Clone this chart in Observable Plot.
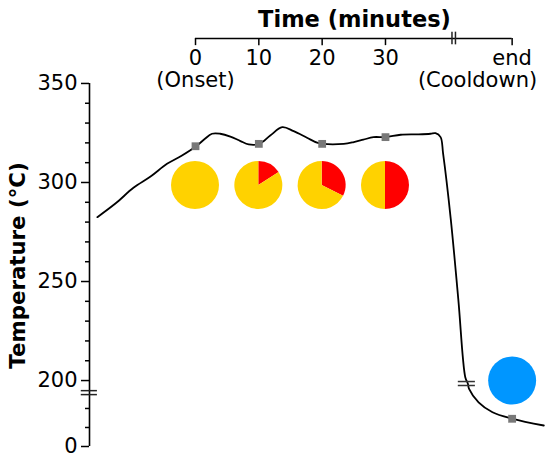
<!DOCTYPE html>
<html><head><meta charset="utf-8">
<script src="https://cdn.jsdelivr.net/npm/d3@7"></script>
<script src="https://cdn.jsdelivr.net/npm/@observablehq/plot@0.6"></script>
<style>html,body{margin:0;padding:0;background:#fff}</style>
</head><body><div id="chart"></div>
<script>
// ---- data (time in minutes on the top axis; after the break, "end" sits at 50) ----
// temperatures are on the axis' own scale; below the break the bottom tick reads "0"
const traceTime = [-15.5, -12.6, -9.8, -7.1, -4.5, -2.2, 0.1, 1.4, 2.6, 3.9, 5.5, 7.1, 8.4, 10.1, 11.8, 13.7, 15.5, 17.6, 19.2, 20.1, 23.4, 25.0, 26.5, 28.1, 30.0, 32.4, 35.0, 37.1, 37.9, 38.7, 39.1, 40.3, 41.5, 42.6, 43.0, 43.2, 44.7, 46.9, 50.1, 55.0];
const traceTemp = [282.5, 289.5, 297.3, 303.0, 309.4, 313.5, 318.3, 321.8, 324.6, 324.6, 323.2, 320.9, 319.2, 319.5, 323.7, 327.9, 325.9, 322.6, 320.1, 319.5, 319.5, 320.4, 321.6, 322.9, 322.9, 324.1, 324.3, 324.6, 324.9, 322.9, 314.6, 281.8, 241.0, 201.7, 198.5, 195.8, 189.0, 184.0, 180.7, 177.3];

const sampleTime = [0, 10, 20, 30, 50];
const sampleTemp = [318.3, 319.5, 319.5, 322.9, 180.7];

const pieTime = [0, 10, 20, 30];
const pieRedShare = [0, 0.16, 0.325, 0.5];
const pieTemp = 298.5;

const coolTime = [50];
const coolTemp = [200];

const xTicks = [0, 10, 20, 30, 50];
const xTickLabels = ["0", "10", "20", "30", "end"];
const xTickSub = ["(Onset)", "", "", "", "(Cooldown)"];

const yMajor = [166.7, 200, 250, 300, 350];
const yMajorLabels = ["0", "200", "250", "300", "350"];
const yMinor = [176.3, 185.9, 210, 220, 230, 240, 260, 270, 280, 290, 310, 320, 330, 340];

const xTitle = "Time (minutes)";
const yTitle = "Temperature (°C)";

// ---- layout constants ----
const xMin = -16.74, xMax = 55;
const yMin = 166.7, yTop = 372.7;   // yTop = level of the top (time) axis
const yBreak = [194.9, 192.9];
const xBreak = [40.5, 41.05];
const lineBreak = [199.5, 197.5];
const yellow = "#ffd200", red = "#ff0000", blue = "#0096ff", gray = "#787878";
const font = "DejaVu Sans";

const trace = traceTime.map((t, i) => ({t, temp: traceTemp[i]}));
const samples = sampleTime.map((t, i) => ({t, temp: sampleTemp[i]}));
const cool = coolTime.map((t, i) => ({t, temp: coolTemp[i]}));
const xTickRows = xTicks.map((t, i) => ({t, label: xTickLabels[i], sub: xTickSub[i]}));
const yLabelMap = new Map(yMajor.map((v, i) => [v, yMajorLabels[i]]));

function pies(index, scales) {
  const g = d3.create("svg:g");
  const arc = d3.arc().innerRadius(0).outerRadius(24);
  pieTime.forEach((t, i) => {
    const cx = scales.x(t), cy = scales.y(pieTemp);
    const share = pieRedShare[i];
    const arcs = d3.pie().sort(null).value(d => d.v)([{v: share, c: red}, {v: 1 - share, c: yellow}]);
    g.append("g").attr("transform", `translate(${cx},${cy})`)
      .selectAll("path").data(arcs.filter(a => a.data.v > 0)).join("path")
      .attr("d", arc).attr("fill", a => a.data.c);
  });
  return g.node();
}

const chart = Plot.plot({
  width: 550, height: 464,
  marginLeft: 89, marginRight: 6.7, marginTop: 38, marginBottom: 18,
  x: {domain: [xMin, xMax], axis: null},
  y: {domain: [yMin, yTop], axis: null},
  style: {fontFamily: font, fontSize: "21px", background: "white", color: "black", overflow: "visible"},
  marks: [
    // left (temperature) axis
    Plot.ruleX([xMin], {y1: yMin, y2: 350, stroke: "black", strokeWidth: 1.6}),
    Plot.axisY({ticks: yMajor, tickFormat: d => yLabelMap.get(d), tickSize: 8, tickPadding: 4, fontSize: 21, strokeWidth: 1.5, label: null, anchor: "left"}),
    Plot.axisY({ticks: yMinor, tickFormat: () => "", tickSize: 4, strokeWidth: 1.5, label: null, anchor: "left"}),
    Plot.ruleY(yBreak, {x1: xMin - 1.3, x2: xMin + 1.25, stroke: "#222", strokeWidth: 1.5}),
    Plot.text([yTitle], {x: -27.95, y: 258.1, rotate: -90, fontWeight: "bold", fontSize: 21.3}),
    // top (time) axis
    Plot.ruleY([yTop], {x1: 0, x2: 50, stroke: "black", strokeWidth: 1.6}),
    Plot.ruleX(xTickRows, {x: "t", y1: yTop, y2: yTop - 3.6, stroke: "black", strokeWidth: 1.5}),
    Plot.ruleX(xBreak, {y1: yTop - 3.2, y2: yTop + 3.2, stroke: "#222", strokeWidth: 1.5}),
    Plot.text(xTickRows, {x: "t", y: 362.6, text: "label", fontSize: 21}),
    Plot.text(xTickRows.filter(d => d.sub && d.t < 40), {x: "t", y: 351.4, text: "sub", fontSize: 21}),
    Plot.text(xTickRows.filter(d => d.sub && d.t >= 40), {x: "t", y: 351.4, text: "sub", fontSize: 21, textAnchor: "end", dx: 25}),
    Plot.text([xTitle], {x: 25.1, y: 382.1, fontWeight: "bold", fontSize: 22.5}),
    // temperature trace
    Plot.line(trace, {x: "t", y: "temp", stroke: "black", strokeWidth: 1.8, curve: "catmull-rom"}),
    Plot.ruleY(lineBreak, {x1: 41.5, x2: 44.2, stroke: "#333", strokeWidth: 1.5}),
    Plot.dot(samples, {x: "t", y: "temp", symbol: "square", r: 4.4, fill: gray}),
    pies,
    Plot.dot(cool, {x: "t", y: "temp", r: 24, fill: blue})
  ]
});
document.getElementById("chart").appendChild(chart);
</script>
</body></html>
